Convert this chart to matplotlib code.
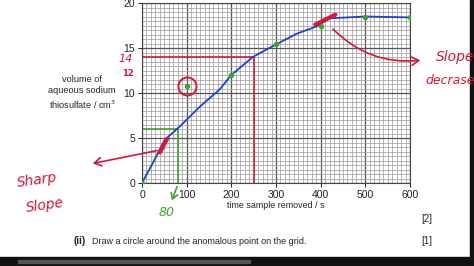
import matplotlib
matplotlib.use("Agg")
import matplotlib.pyplot as plt
from matplotlib.patches import Rectangle, FancyArrowPatch

# measured points (green dots)
time_s = [0, 100, 200, 300, 400, 500, 600]
volume = [0, 10.8, 12.0, 15.4, 17.4, 18.5, 18.5]

# hand drawn best-fit curve (blue)
curve_t = [0, 25, 51, 85, 130, 174, 200, 248, 300, 347, 391, 420, 500, 600]
curve_v = [0, 2.3, 4.8, 6.3, 8.5, 10.4, 12.0, 14.0, 15.4, 16.6, 17.4, 18.3, 18.5, 18.4]

x_ticks = [0, 100, 200, 300, 400, 500, 600]
y_ticks = [0, 5, 10, 15, 20]

RED = "#d4173a"
GREEN = "#3aa62a"
BLUE = "#1f3fd8"
INK = "#222222"

plt.rcParams["font.family"] = ["Liberation Sans", "DejaVu Sans"]

W, H = 474, 266
fig = plt.figure(figsize=(W / 100, H / 100), dpi=100)
fig.patch.set_facecolor("white")


def px(x, y):
    # figure pixel -> figure fraction
    return (x / W, 1 - y / H)


ax = fig.add_axes([142 / W, 1 - 183 / H, 268 / W, 180 / H])
ax.set_xlim(0, 600)
ax.set_ylim(0, 20)

# graph paper
for t in range(0, 601, 10):
    major = t % 100 == 0
    ax.axvline(t, color="#555555" if major else "#9a9a9a", lw=0.9 if major else 0.5, zorder=0)
for v in [i * 0.5 for i in range(41)]:
    major = v % 5 == 0
    ax.axhline(v, color="#555555" if major else "#9a9a9a", lw=0.9 if major else 0.5, zorder=0)

ax.set_xticks(x_ticks)
ax.set_yticks(y_ticks)
ax.tick_params(labelsize=7.5, length=3, width=0.7, colors=INK, pad=2)
for s in ax.spines.values():
    s.set_color("#444444")
    s.set_linewidth(0.8)

ax.plot(curve_t, curve_v, color=BLUE, lw=1.3, zorder=3)
ax.plot(time_s, volume, "o", color=GREEN, ms=3, zorder=4)

# red working lines
ax.plot([0, 250, 250], [14, 14, 0], color=RED, lw=1.2, zorder=2)
ax.plot([100], [10.8], "o", mfc="none", mec=RED, ms=13, mew=1.4, zorder=5)
ax.plot([40, 56], [3.4, 4.9], color=RED, lw=3, solid_capstyle="round", zorder=5)
ax.plot([388, 433], [17.6, 18.7], color=RED, lw=3, solid_capstyle="round", zorder=5)

# green working lines
ax.plot([0, 80, 80], [6, 6, 0], color=GREEN, lw=1.2, zorder=2)

# arrows out to the notes
fig.add_artist(FancyArrowPatch(px(160, 150), px(90, 164), arrowstyle="->,head_length=5,head_width=3",
                               color=RED, lw=1.2, transform=fig.transFigure))
fig.add_artist(FancyArrowPatch(px(331, 27), px(423, 60), arrowstyle="->,head_length=5,head_width=3",
                               connectionstyle="arc3,rad=0.25", color=RED, lw=1.2,
                               transform=fig.transFigure))
fig.add_artist(FancyArrowPatch(px(178, 184), px(171, 203), arrowstyle="->,head_length=4,head_width=2.5",
                               color=GREEN, lw=1.2, transform=fig.transFigure))

hand = dict(color=RED, fontsize=10, fontstyle="italic", family="DejaVu Sans", transform=fig.transFigure)
fig.text(*px(37, 180), "Sharp", ha="center", va="center", rotation=8, **hand)
fig.text(*px(45, 205), "Slope", ha="center", va="center", rotation=8, **hand)
fig.text(*px(455, 57), "Slope", ha="center", va="center", **hand)
fig.text(*px(450, 81), "decrase", ha="center", va="center", fontsize=9, family="DejaVu Sans",
         color=RED, fontstyle="italic", transform=fig.transFigure)
fig.text(*px(126, 59), "14", ha="center", va="center", color=RED, fontsize=8, fontstyle="italic",
         family="DejaVu Sans")
fig.text(*px(128, 74), "12", ha="center", va="center", color=RED, fontsize=6, fontweight="bold",
         family="DejaVu Sans")
fig.text(*px(167, 212), "80", ha="center", va="center", color=GREEN, fontsize=9, fontstyle="italic",
         family="DejaVu Sans")

# axis labels
fig.text(*px(82, 93), "volume of\naqueous sodium\nthiosulfate / cm$^3$", ha="center", va="center",
         fontsize=6.6, color=INK, linespacing=1.3)
fig.text(*px(276, 205), "time sample removed / s", ha="center", va="center",
         fontsize=6.4, color=INK)

# question text
fig.text(*px(427, 219), "[2]", ha="center", va="center", fontsize=7, color=INK)
fig.text(*px(427, 241), "[1]", ha="center", va="center", fontsize=7, color=INK)
fig.text(*px(73, 241), "(ii)", ha="left", va="center", fontsize=7, fontweight="bold", color=INK)
fig.text(*px(92, 241), "Draw a circle around the anomalous point on the grid.", ha="left",
         va="center", fontsize=6.5, color=INK)

# screen frame
fig.add_artist(Rectangle(px(0, 266), 1, 9 / H, color="#111111", transform=fig.transFigure))
fig.add_artist(Rectangle(px(470, 266), 4 / W, 1, color="#111111", transform=fig.transFigure))
fig.add_artist(Rectangle(px(18, 263), 232 / W, 3 / H, color="#555555", transform=fig.transFigure))

fig.savefig("out.png", dpi=100)
